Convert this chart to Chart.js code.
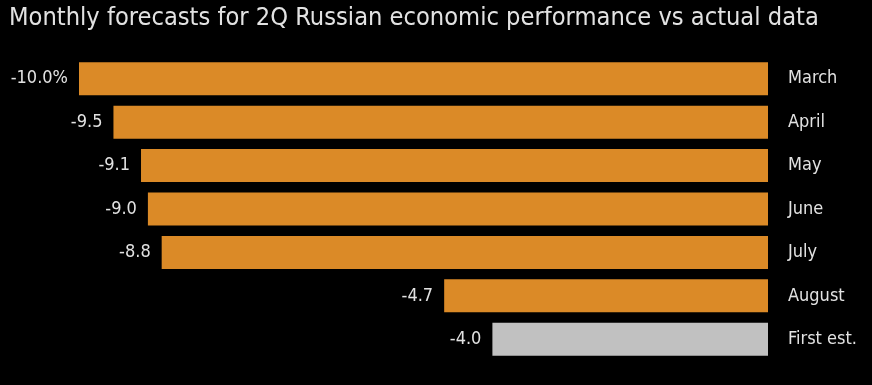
<!DOCTYPE html>
<html>
<head>
<meta charset="utf-8">
<script src="https://cdn.jsdelivr.net/npm/chart.js@4/dist/chart.umd.min.js"></script>
<style>
  html, body { margin: 0; padding: 0; background: #000; }
  #wrap { width: 872px; height: 385px; position: relative; }
</style>
</head>
<body>
<div id="wrap"><canvas id="c"></canvas></div>
<script>
const titleText = "Monthly forecasts for 2Q Russian economic performance vs actual data";
const categories = ["March", "April", "May", "June", "July", "August", "First est."];
const values = [-10.0, -9.5, -9.1, -9.0, -8.8, -4.7, -4.0];
const barColors = ["#DB8A27", "#DB8A27", "#DB8A27", "#DB8A27", "#DB8A27", "#DB8A27", "#C1C1C1"];

const FONT = "'DejaVu Sans Condensed', 'DejaVu Sans', sans-serif";
const TEXT = "#E2E2E2";

const overlay = {
  id: 'overlay',
  afterDraw(chart) {
    const ctx = chart.ctx;
    ctx.save();
    ctx.fillStyle = TEXT;
    ctx.font = "25.2px " + FONT;
    ctx.textAlign = 'left';
    ctx.textBaseline = 'alphabetic';
    ctx.fillText(titleText, 9, 24.5);
    const meta = chart.getDatasetMeta(0);
    const yScale = chart.scales.y;
    ctx.font = "18px " + FONT;
    ctx.textBaseline = 'middle';
    meta.data.forEach((bar, i) => {
      const v = values[i];
      const label = v.toFixed(1) + (i === 0 ? '%' : '');
      ctx.textAlign = 'right';
      ctx.fillText(label, bar.x - 11, bar.y);
      ctx.textAlign = 'left';
      ctx.fillText(categories[i], chart.chartArea.right + 20, yScale.getPixelForValue(i));
    });
    ctx.restore();
  }
};

new Chart(document.getElementById('c'), {
  type: 'bar',
  data: {
    labels: categories,
    datasets: [{
      data: values,
      backgroundColor: barColors,
      borderWidth: 0,
      barPercentage: 0.76,
      categoryPercentage: 1.0
    }]
  },
  options: {
    indexAxis: 'y',
    responsive: true,
    maintainAspectRatio: false,
    animation: false,
    layout: { padding: { left: 79, top: 57, bottom: 24, right: 0 } },
    plugins: { legend: { display: false }, tooltip: { enabled: false }, title: { display: false } },
    scales: {
      x: { display: false, min: -10, max: 0 },
      y: {
        position: 'right',
        grid: { display: false, drawTicks: false },
        border: { display: false },
        ticks: { display: false },
        afterFit(scale) { scale.width = 104; }
      }
    }
  },
  plugins: [overlay]
});
</script>
</body>
</html>
